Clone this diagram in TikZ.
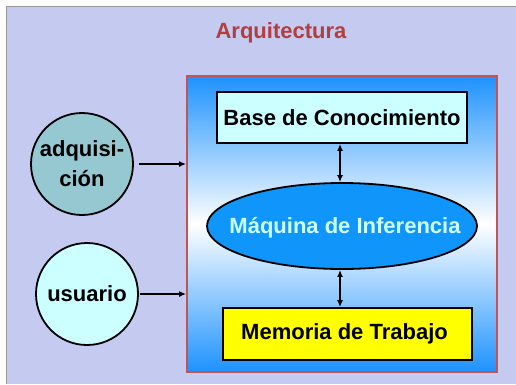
\documentclass[tikz,border=0pt]{standalone}
\usepackage{fontspec}
\setmainfont{Liberation Sans}
\usetikzlibrary{shapes.geometric,arrows.meta}
\definecolor{bgc}{RGB}{196,202,240}
\definecolor{framec}{RGB}{150,150,150}
\definecolor{titlec}{RGB}{178,62,62}
\definecolor{bigborder}{RGB}{196,84,84}
\definecolor{bigblue}{RGB}{30,146,255}
\definecolor{lcyan}{RGB}{204,255,255}
\definecolor{ellblue}{RGB}{16,150,250}
\definecolor{adqc}{RGB}{150,200,210}
\definecolor{ylw}{RGB}{255,255,0}
\tikzset{
  txt/.style={font=\fontsize{22}{30}\selectfont\bfseries, text=black},
  boxnode/.style={draw=black, line width=1.8pt, inner sep=0pt, txt},
  circnode/.style={circle, draw=black, line width=1.8pt, minimum size=102pt, inner sep=0pt, txt, align=center},
  conn/.style={line width=1.6pt, -{Latex[length=7pt,width=6pt]}},
  conn2/.style={line width=1.6pt, {Latex[length=7pt,width=6pt]}-{Latex[length=7pt,width=6pt]}}
}
\begin{document}
\begin{tikzpicture}[x=1pt,y=-1pt]
\useasboundingbox (0,0) rectangle (516,384);
\fill[white] (0,0) rectangle (516,384);
\fill[bgc] (6,6) rectangle (516,384);
\draw[framec, line width=1pt] (6,384) -- (6,6) -- (516,6);
\node[txt, text=titlec] (title) at (281,33) {Arquitectura};
\node[draw=bigborder, line width=1.8pt, minimum width=310pt, minimum height=296pt, inner sep=0pt,
      top color=bigblue, bottom color=bigblue, middle color=white] (big) at (342,224) {};
\node[boxnode, fill=lcyan, minimum width=250pt, minimum height=51pt] (base) at (342,117.5) {Base de Conocimiento};
\node[ellipse, draw=black, line width=1.8pt, fill=ellblue, minimum width=270pt, minimum height=86pt, inner sep=0pt] (maq) at (342,226) {};
\node[txt, text=lcyan] (maqtext) at (345,227.5) {Máquina de Inferencia};
\node[boxnode, fill=ylw, minimum width=249pt, minimum height=52pt] (mem) at (347.5,334) {};
\node[txt] (memtext) at (344.5,334) {Memoria de Trabajo};
\node[circnode, fill=adqc] (adq) at (82,164) {adquisi-\\ción};
\node[circnode, fill=lcyan] (usu) at (87,294) {usuario};
\draw[conn, shorten <=5pt] (adq.east) -- (adq.east -| big.west);
\draw[conn, shorten <=1pt] (usu.east) -- (usu.east -| big.west);
\draw[conn2] ([xshift=-2pt]base.south) -- ([xshift=-2pt]base.south |- maq.north);
\draw[conn2] ([xshift=-2pt]maq.south) -- ([xshift=-2pt]maq.south |- mem.north);
\end{tikzpicture}
\end{document}
